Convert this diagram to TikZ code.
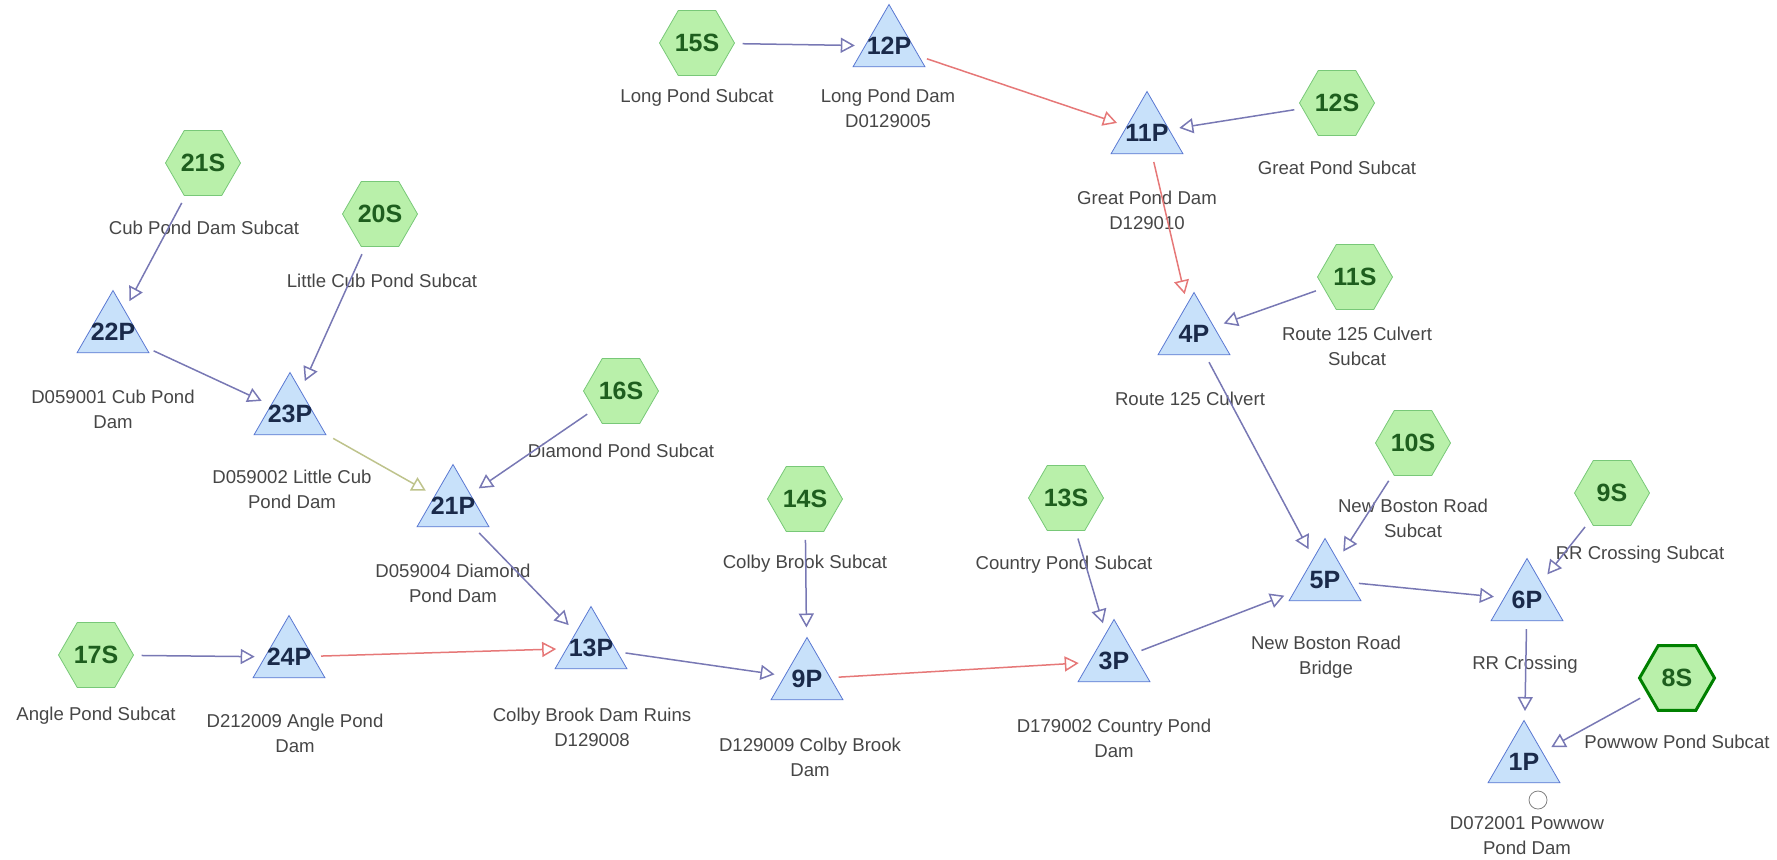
\documentclass[tikz,border=0pt]{standalone}
\usepackage{fontspec}
\setmainfont{Liberation Sans}
\usetikzlibrary{positioning,shapes.geometric,arrows.meta}

\definecolor{subfill}{HTML}{B9F0AA}
\definecolor{subdraw}{HTML}{78C878}
\definecolor{subtext}{HTML}{1E5E1E}
\definecolor{pondfill}{HTML}{C8E1FA}
\definecolor{ponddraw}{HTML}{5A78D2}
\definecolor{pondtext}{HTML}{1A2A4A}
\definecolor{flowblue}{HTML}{7878B4}
\definecolor{flowred}{HTML}{E67878}
\definecolor{flowolive}{HTML}{BEC38C}
\definecolor{labgray}{HTML}{464646}

\begin{document}
\begin{tikzpicture}[x=0.5pt, y=-0.5pt,
  mysub/.style = {regular polygon, regular polygon sides=6, minimum size=37.5pt, inner sep=0pt,
    draw=subdraw, fill=subfill, text=subtext, font=\fontsize{12.5}{12.5}\selectfont\bfseries},
  mypond/.style = {regular polygon, regular polygon sides=3, minimum size=41.5pt, inner sep=0pt,
    draw=ponddraw, fill=pondfill, text=pondtext, font=\fontsize{12.5}{12.5}\selectfont\bfseries},
  mylabel/.style = {align=center, inner sep=0pt, text=labgray, font=\fontsize{9.3}{12.5}\selectfont},
  myflow/.style = {draw=flowblue, line width=0.75pt, shorten <=4pt, shorten >=5pt,
    -{Triangle[open, length=7pt, width=7.5pt]}},
  myred/.style = {draw=flowred}]
\useasboundingbox (0,0) rectangle (1777,859);

% subcatchments
\foreach \n/\x/\y in {15/697/43, 12/1337/103, 21/203/163, 20/380/214, 11/1355/277, 16/621/391,
    10/1413/443, 14/805/499, 13/1066/498, 9/1612/493, 17/96/655}
  \node[mysub] (s\n) at (\x,\y) {\n S};
\node[mysub, draw=green!50!black, line width=1.5pt] (s8) at (1677,678) {8S};

% ponds
\foreach \n/\x/\y in {12/889/46, 11/1147/133, 22/113/332, 4/1194/334, 23/290/414, 21/453/506,
    5/1325/580, 6/1527/600, 13/591/648, 24/289/657, 9/807/679, 3/1114/661, 1/1524/762}
  \node[mypond] (p\n) at (\x,\y) {\makebox[0pt]{\n P}};
\node[circle, draw=gray, fill=white, minimum size=9pt, inner sep=0pt] (o1) at (1538,800) {};

% labels
\node[mylabel] (l15S) at (697,98) {Long Pond Subcat};
\node[mylabel] (l12P) at (888,108) {Long Pond Dam\\D0129005};
\node[mylabel] (l12S) at (1337,168) {Great Pond Subcat};
\node[mylabel] (l11P) at (1147,210) {Great Pond Dam\\D129010};
\node[mylabel] (l21S) at (204,228) {Cub Pond Dam Subcat};
\node[mylabel] (l20S) at (382,281) {Little Cub Pond Subcat};
\node[mylabel] (l11S) at (1357,346) {Route 125 Culvert\\Subcat};
\node[mylabel] (l22P) at (113,409) {D059001 Cub Pond\\Dam};
\node[mylabel] (l4P) at (1190,399) {Route 125 Culvert};
\node[mylabel] (l23P) at (292,489) {D059002 Little Cub\\Pond Dam};
\node[mylabel] (l16S) at (621,451) {Diamond Pond Subcat};
\node[mylabel] (l21P) at (453,583) {D059004 Diamond\\Pond Dam};
\node[mylabel] (l10S) at (1413,518) {New Boston Road\\Subcat};
\node[mylabel] (l14S) at (805,564) {Colby Brook Subcat};
\node[mylabel] (l13S) at (1064,565) {Country Pond Subcat};
\node[mylabel] (l9S) at (1640,555) {RR Crossing Subcat};
\node[mylabel] (l5P) at (1326,657) {New Boston Road\\Bridge};
\node[mylabel] (l6P) at (1525,665) {RR Crossing};
\node[mylabel] (l17S) at (96,716) {Angle Pond Subcat};
\node[mylabel] (l24P) at (295,733) {D212009 Angle Pond\\Dam};
\node[mylabel] (l13P) at (592,727) {Colby Brook Dam Ruins\\D129008};
\node[mylabel] (l9P) at (810,757) {D129009 Colby Brook\\Dam};
\node[mylabel] (l3P) at (1114,738) {D179002 Country Pond\\Dam};
\node[mylabel] (l8S) at (1677,742) {Powwow Pond Subcat};
\node[mylabel] (l1P) at (1527,836) {D072001 Powwow\\Pond Dam};

% flows
\foreach \a/\b in {s15/p12, s12/p11, s11/p4, p4/p5, s10/p5, p3/p5, p5/p6, s9/p6, p6/p1, s8/p1,
    s21/p22, s20/p23, p22/p23, s16/p21, p21/p13, s17/p24, p13/p9, s14/p9, s13/p3}
  \draw[myflow] (\a) -- (\b);
\foreach \a/\b in {p12/p11, p11/p4, p24/p13, p9/p3}
  \draw[myflow, myred] (\a) -- (\b);
\draw[myflow, draw=flowolive] (p23) -- (p21);
\end{tikzpicture}
\end{document}
